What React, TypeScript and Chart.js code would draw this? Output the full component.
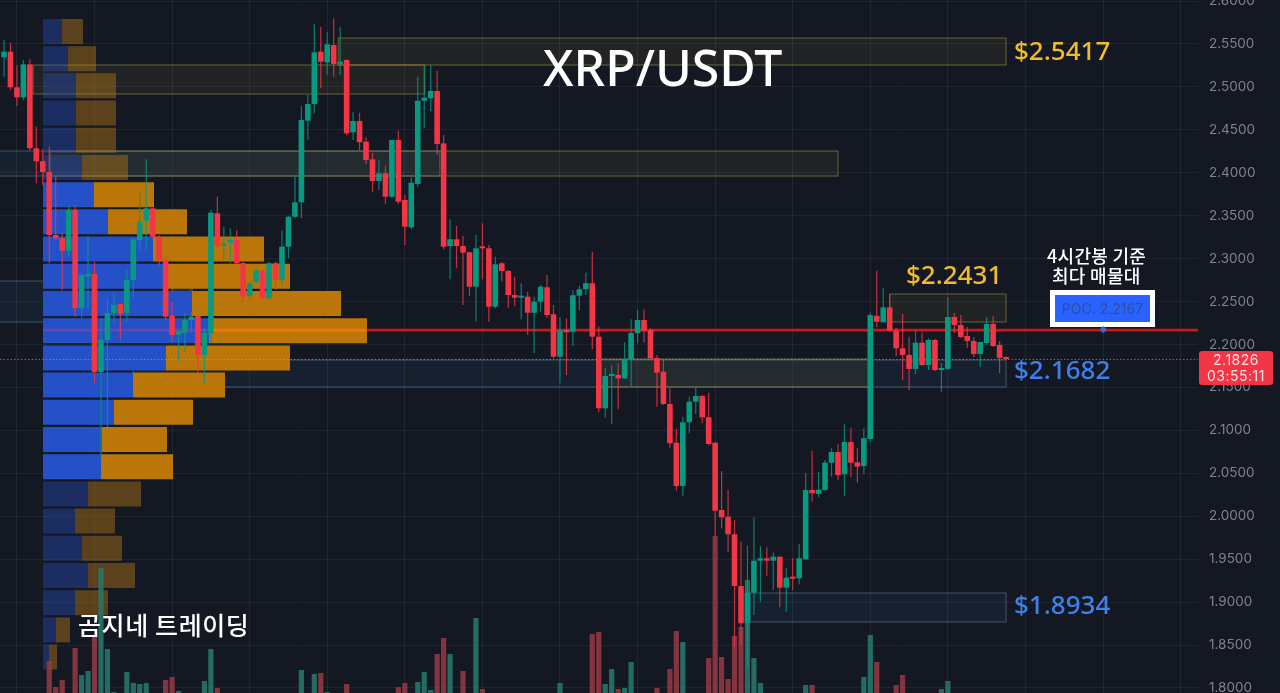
import React, { useEffect, useRef } from "react";
import { Chart, registerables } from "chart.js";

Chart.register(...registerables);

const opens = [
  2.5345, 2.5410, 2.4995, 2.4879, 2.5263, 2.4285, 2.4134, 2.4009, 2.3275, 2.3237,
  2.3092, 2.3566, 2.2422, 2.2790, 2.2821, 2.1680, 2.2052, 2.2367, 2.2472, 2.2367,
  2.2751, 2.3217, 2.3442, 2.3586, 2.3255, 2.2984, 2.2335, 2.2111, 2.2134, 2.2285,
  2.2332, 2.1878, 2.2130, 2.3528, 2.3147, 2.3185, 2.3217, 2.2946, 2.2565, 2.2731,
  2.2859, 2.2538, 2.2946, 2.2751, 2.3139, 2.3488, 2.3656, 2.4606, 2.4801, 2.5410,
  2.5286, 2.5488, 2.5267, 2.5313, 2.4471, 2.4603, 2.4362, 2.4157, 2.3904, 2.3994,
  2.3721, 2.4382, 2.3683, 2.3365, 2.3869, 2.4839, 2.4867, 2.4952, 2.4343, 2.3147,
  2.3225, 2.3147, 2.3074, 2.2673, 2.3139, 2.3120, 2.2440, 2.2946, 2.2856, 2.2576,
  2.2545, 2.2557, 2.2370, 2.2498, 2.2666, 2.2352, 2.1858, 2.2169, 2.2149, 2.2568,
  2.2643, 2.2713, 2.2091, 2.1257, 2.1633, 2.1645, 2.1606, 2.1831, 2.2134, 2.2285,
  2.2169, 2.1843, 2.1683, 2.1307, 2.0856, 2.0352, 2.1094, 2.1334, 2.1400, 2.1152,
  2.0856, 2.0072, 1.9994, 1.9790, 1.9187, 1.8753, 1.9109, 1.9482, 1.9510, 1.9482,
  1.9529, 1.9168, 1.9292, 1.9277, 1.9498, 2.0305, 2.0259, 2.0305, 2.0623, 2.0748,
  2.0488, 2.0864, 2.0628, 2.0585, 2.0899, 2.2335, 2.2258, 2.2433, 2.2161, 2.1956,
  2.1878, 2.1715, 2.2021, 2.1761, 2.2052, 2.1703, 2.1715, 2.2320, 2.2227, 2.2099,
  2.2041, 2.1889, 2.2017, 2.2239, 2.1994, 2.1854,
];
const closes = [
  2.5410, 2.4995, 2.4879, 2.5263, 2.4285, 2.4134, 2.4009, 2.3275, 2.3237, 2.3092,
  2.3566, 2.2422, 2.2809, 2.2821, 2.1680, 2.2052, 2.2367, 2.2460, 2.2355, 2.2751,
  2.3225, 2.3430, 2.3586, 2.3255, 2.2984, 2.2324, 2.2111, 2.2157, 2.2285, 2.2320,
  2.1878, 2.2134, 2.3535, 2.3147, 2.3178, 2.3217, 2.2946, 2.2557, 2.2713, 2.2859,
  2.2545, 2.2946, 2.2751, 2.3139, 2.3488, 2.3656, 2.4615, 2.4801, 2.5403, 2.5293,
  2.5496, 2.5267, 2.5293, 2.4460, 2.4603, 2.4355, 2.4149, 2.3904, 2.3994, 2.3721,
  2.4382, 2.3663, 2.3372, 2.3884, 2.4839, 2.4874, 2.4952, 2.4335, 2.3139, 2.3225,
  2.3147, 2.3069, 2.2673, 2.3120, 2.3120, 2.2440, 2.2934, 2.2856, 2.2576, 2.2545,
  2.2565, 2.2370, 2.2498, 2.2673, 2.2343, 2.1858, 2.2165, 2.2142, 2.2573, 2.2643,
  2.2713, 2.2091, 2.1257, 2.1633, 2.1653, 2.1606, 2.1828, 2.2134, 2.2285, 2.2161,
  2.1839, 2.1671, 2.1307, 2.0849, 2.0352, 2.1094, 2.1334, 2.1400, 2.1152, 2.0841,
  2.0064, 1.9987, 1.9790, 1.9187, 1.8753, 1.9109, 1.9482, 1.9510, 1.9482, 1.9529,
  1.9168, 1.9284, 1.9272, 1.9510, 2.0305, 2.0267, 2.0309, 2.0623, 2.0748, 2.0480,
  2.0864, 2.0623, 2.0577, 2.0908, 2.2343, 2.2265, 2.2433, 2.2161, 2.1956, 2.1878,
  2.1715, 2.2021, 2.1761, 2.2052, 2.1703, 2.1726, 2.2320, 2.2227, 2.2087, 2.2041,
  2.1889, 2.2029, 2.2239, 2.1982, 2.1843, 2.1831,
];
const highs = [
  2.5546, 2.5515, 2.5255, 2.5313, 2.5321, 2.4536, 2.4277, 2.4304, 2.3954, 2.3295,
  2.3613, 2.3625, 2.2829, 2.3264, 2.2961, 2.2309, 2.2541, 2.2600, 2.2472, 2.2868,
  2.3240, 2.3764, 2.4157, 2.3586, 2.3275, 2.3022, 2.2495, 2.2169, 2.2367, 2.2382,
  2.2343, 2.2192, 2.3566, 2.3721, 2.3372, 2.3353, 2.3333, 2.2964, 2.2731, 2.2887,
  2.2868, 2.2964, 2.2964, 2.3333, 2.3496, 2.3954, 2.4778, 2.4906, 2.5732, 2.5701,
  2.5636, 2.5799, 2.5694, 2.5321, 2.4711, 2.4699, 2.4413, 2.4234, 2.4149, 2.4082,
  2.4382, 2.4490, 2.3741, 2.3947, 2.5119, 2.5255, 2.5255, 2.5189, 2.4440, 2.3458,
  2.3380, 2.3264, 2.3081, 2.3275, 2.3411, 2.3159, 2.3022, 2.2957, 2.2868, 2.2790,
  2.2713, 2.2615, 2.2557, 2.2693, 2.2809, 2.2460, 2.2317, 2.2305, 2.2635, 2.2681,
  2.2836, 2.3081, 2.2207, 2.1723, 2.1761, 2.1781, 2.2025, 2.2293, 2.2402, 2.2410,
  2.2189, 2.1878, 2.1828, 2.1490, 2.1019, 2.1159, 2.1392, 2.1502, 2.1412, 2.1439,
  2.0864, 2.0527, 2.0305, 1.9956, 1.9703, 1.9657, 1.9987, 1.9653, 1.9638, 1.9575,
  1.9529, 1.9394, 1.9510, 1.9677, 2.0500, 2.0760, 2.0518, 2.0655, 2.0791, 2.0841,
  2.1074, 2.1031, 2.0791, 2.1024, 2.2370, 2.2859, 2.2654, 2.2588, 2.2192, 2.2355,
  2.2091, 2.2161, 2.2137, 2.2072, 2.2064, 2.1784, 2.2553, 2.2367, 2.2343, 2.2204,
  2.2087, 2.2029, 2.2320, 2.2332, 2.2041, 2.1866,
];
const lows = [
  2.5119, 2.4964, 2.4778, 2.4847, 2.4257, 2.3877, 2.3857, 2.2946, 2.3217, 2.2635,
  2.3022, 2.2324, 2.2305, 2.2422, 2.1552, 2.0690, 2.1039, 2.2265, 2.2052, 2.2265,
  2.2541, 2.3100, 2.3100, 2.3248, 2.2906, 2.2285, 2.2029, 2.1796, 2.1913, 2.2134,
  2.1668, 2.1552, 2.2017, 2.3120, 2.2984, 2.2946, 2.2926, 2.2498, 2.2518, 2.2713,
  2.2518, 2.2518, 2.2635, 2.2693, 2.3004, 2.3470, 2.3470, 2.4382, 2.4692, 2.4984,
  2.5139, 2.5119, 2.5139, 2.4440, 2.4382, 2.4265, 2.4102, 2.3779, 2.3799, 2.3636,
  2.3703, 2.3636, 2.3159, 2.3342, 2.3838, 2.4518, 2.4719, 2.4207, 2.3109, 2.2759,
  2.2894, 2.2460, 2.2565, 2.2265, 2.2759, 2.2265, 2.2422, 2.2731, 2.2429, 2.2448,
  2.2293, 2.2111, 2.1901, 2.2382, 2.2305, 2.1839, 2.1548, 2.1645, 2.1982, 2.2402,
  2.2576, 2.1944, 2.1210, 2.1147, 2.1071, 2.1245, 2.1598, 2.1517, 2.2014, 2.2025,
  2.1819, 2.1276, 2.1295, 2.0798, 2.0297, 2.0239, 2.0966, 2.1190, 2.1082, 2.0821,
  1.9770, 1.9859, 1.9587, 1.8489, 1.8500, 1.8232, 1.8850, 1.9005, 1.9307, 1.9141,
  1.8939, 1.8888, 1.9141, 1.9207, 1.9490, 2.0169, 2.0220, 2.0297, 2.0460, 2.0422,
  2.0239, 2.0460, 2.0390, 2.0492, 2.0868, 2.2200, 2.2258, 2.2149, 2.1866, 2.1587,
  2.1470, 2.1656, 2.1750, 2.1703, 2.1691, 2.1447, 2.1703, 2.2134, 2.2076, 2.1959,
  2.1854, 2.1738, 2.1994, 2.1971, 2.1668, 2.1819,
];
const volumes = [
  0, 0, 0, 0, 0, 0, 0, 32, 6, 13, 0, 45, 18, 22, 58, 125, 44, 1, 0, 21,
  10, 9, 10, 0, 0, 13, 16, 2, 0, 0, 0, 12, 44, 5, 0, 0, 0, 0, 0, 0,
  0, 0, 0, 0, 0, 0, 23, 0, 19, 20, 1, 0, 0, 9, 0, 0, 0, 0, 0, 0,
  0, 6, 10, 0, 11, 21, 3, 39, 55, 39, 0, 22, 0, 75, 4, 0, 0, 0, 0, 0,
  0, 0, 0, 0, 0, 0, 10, 0, 0, 0, 0, 59, 61, 9, 24, 4, 5, 31, 0, 0,
  0, 5, 0, 24, 62, 51, 0, 0, 0, 35, 157, 36, 14, 57, 66, 113, 35, 10, 0, 0,
  0, 0, 0, 0, 8, 8, 0, 0, 0, 0, 0, 0, 0, 16, 58, 31, 0, 0, 8, 18,
  0, 0, 0, 0, 0, 4, 12, 0, 0, 0, 0, 0, 0, 0, 0, 0,
];

const profilePrices = [
  2.5645, 2.5328, 2.5012, 2.4695, 2.4378, 2.4061, 2.3745, 2.3428, 2.3111, 2.2794, 2.2477, 2.2161,
  2.1844, 2.1527, 2.121, 2.0893, 2.0577, 2.026, 1.9943, 1.9626, 1.931, 1.8993, 1.8676, 1.836,
];
const profileBuy = [19, 25, 33, 33, 33, 39, 51, 65, 110, 123, 149, 166, 123, 90, 71, 59, 58, 45, 32, 39, 45, 32, 13, 6];
const profileSell = [21, 28, 40, 40, 40, 46, 60, 79, 111, 124, 149, 158, 124, 92, 79, 65, 72, 53, 40, 40, 47, 33, 14, 8];
const profileActive = [0, 0, 0, 0, 0, 0, 1, 1, 1, 1, 1, 1, 1, 1, 1, 1, 1, 0, 0, 0, 0, 0, 0, 0];

const zoneKinds = ["y", "y", "b", "y", "b", "y", "b", "y", "y", "b"];
const zoneStarts = [51.7, 4.5, -1, 7.1, -1, 26, 20, 92.2, 137, 115.4];
const zoneEnds = [155, 65.1, 67.4, 129, 28.8, 29.1, 155, 134, 155, 155];
const zoneTops = [2.5569, 2.5255, 2.4253, 2.4253, 2.2739, 2.2739, 2.1819, 2.1831, 2.2588, 1.9106];
const zoneBottoms = [2.5255, 2.4917, 2.3962, 2.3962, 2.2262, 2.2262, 2.1505, 2.1505, 2.2262, 1.8768];

const gridCandles = [2, 14, 26, 38, 50, 62, 74, 86, 98, 110, 122, 134, 146, 158, 170, 182];
const pocPrice = 2.2167;
const lastPrice = 2.1826;
const pocStops = [6.03, 31.7, 56.1, 184.7];
const pocColors = ["#6b45b4", "#f07a08", "#cf1717"];

const UP = "#089981";
const DOWN = "#f23645";

const zonesPlugin = {
  id: "zones",
  beforeDatasetsDraw(chart: any) {
    const { ctx, scales } = chart;
    zoneKinds.forEach((kind, i) => {
      const x0 = scales.x.getPixelForValue(zoneStarts[i]);
      const x1 = scales.x.getPixelForValue(zoneEnds[i]);
      const y0 = scales.y.getPixelForValue(zoneTops[i]);
      const y1 = scales.y.getPixelForValue(zoneBottoms[i]);
      ctx.save();
      ctx.fillStyle = kind === "y" ? "rgba(170,155,70,0.09)" : "rgba(70,130,190,0.075)";
      ctx.strokeStyle = kind === "y" ? "rgba(190,170,70,0.5)" : "rgba(125,165,200,0.42)";
      ctx.lineWidth = 1;
      ctx.fillRect(x0, y0, x1 - x0, y1 - y0);
      ctx.strokeRect(x0, y0, x1 - x0, y1 - y0);
      ctx.restore();
    });
  },
};

const txt = (
  text: string,
  left: number,
  top: number,
  size: number,
  color: string,
  extra: React.CSSProperties = {},
) => (
  <div
    style={{
      position: "absolute",
      left,
      top,
      fontSize: size,
      color,
      lineHeight: 1,
      whiteSpace: "nowrap",
      fontWeight: 500,
      fontFamily: '"Noto Sans", "Noto Sans CJK KR", sans-serif',
      ...extra,
    }}
  >
    {text}
  </div>
);

export default function App() {
  const ref = useRef<HTMLCanvasElement | null>(null);

  useEffect(() => {
    document.body.style.margin = "0";
    const idx = opens.map((_, i) => i);
    const dirColor = (i: number, up: string, down: string) => (closes[i] >= opens[i] ? up : down);
    const chart = new Chart(ref.current as HTMLCanvasElement, {
      type: "bar",
      data: {
        datasets: [
          {
            type: "bar",
            label: "body",
            order: 0,
            xAxisID: "x",
            yAxisID: "y",
            grouped: false,
            barThickness: 5.6,
            inflateAmount: 0,
            minBarLength: 2,
            data: idx.map((i) => ({ x: i, y: [opens[i], closes[i]] })),
            backgroundColor: idx.map((i) => dirColor(i, UP, DOWN)),
          },
          {
            type: "bar",
            label: "wick",
            order: 1,
            xAxisID: "x",
            yAxisID: "y",
            grouped: false,
            barThickness: 1.2,
            inflateAmount: 0,
            data: idx.map((i) => ({ x: i, y: [lows[i], highs[i]] })),
            backgroundColor: idx.map((i) => dirColor(i, "rgba(8,153,129,0.8)", "rgba(242,54,69,0.8)")),
          },
          {
            type: "line",
            label: "last",
            order: 2,
            xAxisID: "x",
            yAxisID: "y",
            data: [
              { x: -0.6, y: lastPrice },
              { x: 184.7, y: lastPrice },
            ],
            borderColor: "rgba(225,150,160,0.62)",
            borderWidth: 1,
            borderDash: [1.5, 2],
            pointRadius: 0,
          },
          {
            type: "line",
            label: "poc",
            order: 3,
            xAxisID: "x",
            yAxisID: "y",
            data: pocStops.map((x) => ({ x, y: pocPrice })),
            borderColor: "#cf1717",
            borderWidth: 2.6,
            pointRadius: 0,
            segment: { borderColor: (c: any) => pocColors[c.p0DataIndex] },
          },
          {
            type: "bar",
            label: "volume",
            order: 4,
            xAxisID: "x",
            yAxisID: "vol",
            grouped: false,
            barThickness: 5.2,
            inflateAmount: 0,
            data: idx.map((i) => ({ x: i, y: volumes[i] })),
            backgroundColor: idx.map((i) => dirColor(i, "rgba(38,122,110,0.85)", "rgba(150,58,68,0.85)")),
          },
          {
            type: "bar",
            label: "sell",
            order: 5,
            indexAxis: "y",
            xAxisID: "px",
            yAxisID: "y",
            grouped: false,
            barThickness: 25,
            inflateAmount: 0,
            data: profilePrices.map((p, i) => ({ y: p, x: [profileBuy[i], profileBuy[i] + profileSell[i]] })),
            backgroundColor: profileActive.map((a) => (a ? "#bb7609" : "rgba(190,125,20,0.42)")),
          },
          {
            type: "bar",
            label: "buy",
            order: 6,
            indexAxis: "y",
            xAxisID: "px",
            yAxisID: "y",
            grouped: false,
            barThickness: 25,
            inflateAmount: 0,
            data: profilePrices.map((p, i) => ({ y: p, x: [0, profileBuy[i]] })),
            backgroundColor: profileActive.map((a) => (a ? "#2450c8" : "rgba(42,84,200,0.38)")),
          },
        ] as any,
      },
      plugins: [zonesPlugin],
      options: {
        animation: false,
        responsive: false,
        devicePixelRatio: 1,
        layout: { padding: 0 },
        plugins: { legend: { display: false }, tooltip: { enabled: false } },
        scales: {
          x: {
            type: "linear",
            position: "bottom",
            offset: false,
            min: -0.619,
            max: 184.69,
            border: { display: false },
            grid: { color: "rgba(255,255,255,0.06)", drawTicks: false, offset: false },
            ticks: { display: false },
            afterBuildTicks: (s: any) => {
              s.ticks = gridCandles.map((value) => ({ value }));
            },
            afterFit: (s: any) => {
              s.height = 0;
            },
          },
          px: { type: "linear", axis: "x", position: "top", display: false, offset: false, min: -43, max: 1155 },
          vol: { type: "linear", axis: "y", position: "left", display: false, offset: false, min: 0, max: 693 },
          y: {
            type: "linear",
            position: "right",
            offset: false,
            min: 1.7941,
            max: 2.6012,
            border: { display: false },
            grid: { color: "rgba(255,255,255,0.055)", drawTicks: false, offset: false },
            ticks: {
              stepSize: 0.05,
              includeBounds: false,
              autoSkip: false,
              padding: 11,
              color: "#7f838d",
              font: { family: "Inter", size: 13.5 },
              callback: (v: any) => Number(v).toFixed(4),
            },
            afterFit: (s: any) => {
              s.width = 82;
              s.paddingTop = 0;
              s.paddingBottom = 0;
            },
          },
        },
      } as any,
    } as any);
    return () => chart.destroy();
  }, []);

  return (
    <div
      style={{
        position: "fixed",
        left: 0,
        top: 0,
        width: 1280,
        height: 693,
        overflow: "hidden",
        background: "#141823",
      }}
    >
      <canvas ref={ref} width={1280} height={693} style={{ display: "block" }} />
      {txt("XRP/USDT", 543, 42, 50, "#ffffff")}
      {txt("$2.5417", 1014, 37, 26, "#f2bb2c")}
      {txt("$2.2431", 906, 261, 26, "#f2bb2c")}
      {txt("$2.1682", 1014, 356, 26, "#3f80ea")}
      {txt("$1.8934", 1014, 591, 26, "#3f80ea")}
      {txt("곰지네 트레이딩", 78, 612, 25, "#ffffff", { fontFamily: '"Noto Sans CJK KR", sans-serif', letterSpacing: 0.6 })}
      {txt("4시간봉 기준", 1047, 246, 18, "#ffffff", { fontFamily: '"Noto Sans CJK KR", sans-serif', letterSpacing: 0.3 })}
      {txt("최다 매물대", 1052, 266, 18, "#ffffff", { fontFamily: '"Noto Sans CJK KR", sans-serif', letterSpacing: 0.3 })}
      <div
        style={{
          position: "absolute",
          left: 1050,
          top: 290,
          width: 95,
          height: 27,
          border: "5.5px solid #ffffff",
          background: "#2962ff",
          color: "#2f4f9f",
          fontFamily: "Inter, sans-serif",
          fontSize: 14,
          textAlign: "center",
          lineHeight: "27px",
          whiteSpace: "nowrap",
        }}
      >
        POC. 2.2167
      </div>
      <div
        style={{
          position: "absolute",
          left: 1100.5,
          top: 327,
          width: 4.5,
          height: 4.5,
          background: "#3d6bd8",
          transform: "rotate(45deg)",
        }}
      />
      <div
        style={{
          position: "absolute",
          left: 1199,
          top: 351,
          width: 74,
          height: 34,
          background: "#f23645",
          borderRadius: 3,
          color: "#ffe3e5",
          fontFamily: "Inter, sans-serif",
          fontSize: 14,
          letterSpacing: 0.5,
          lineHeight: "16.5px",
          textAlign: "center",
          paddingTop: 0.5,
          boxSizing: "border-box",
          whiteSpace: "nowrap",
        }}
      >
        <div>2.1826</div>
        <div>03:55:11</div>
      </div>
    </div>
  );
}
